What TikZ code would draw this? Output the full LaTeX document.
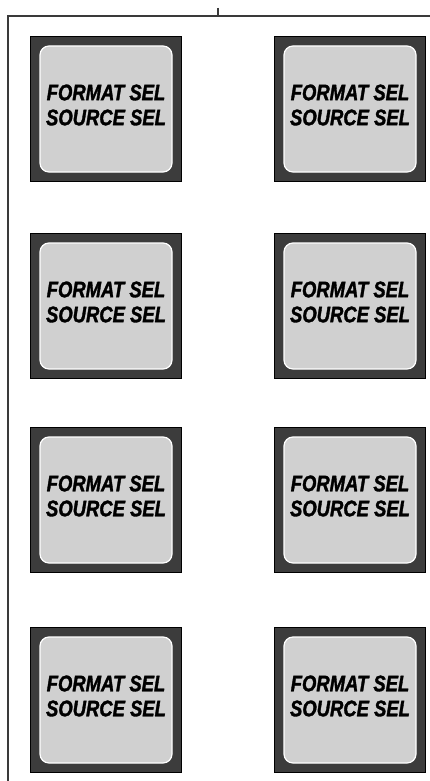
\documentclass[tikz,border=0pt]{standalone}
\usepackage{fontspec}
\usepackage{xcolor}
\newfontfamily\panelfont[FakeStretch=0.82,FakeBold=1.5]{Liberation Sans}
\definecolor{capgray}{HTML}{3C3C3C}
\definecolor{facegray}{HTML}{D0D0D0}
\definecolor{framegray}{HTML}{3A3A3A}

\begin{document}
\begin{tikzpicture}[x=1pt,y=-1pt,
  frame/.style={draw=framegray,line width=2.2pt},
  keycap/.style={draw=black,line width=1.8pt,fill=capgray,minimum width=151pt,minimum height=145pt,inner sep=0pt},
  keyface/.style={draw=white,line width=1.2pt,fill=facegray,rounded corners=9pt,minimum width=132pt,minimum height=126pt,inner sep=0pt},
  keytext/.style={font=\panelfont\fontsize{22.5}{25}\selectfont\bfseries\itshape,align=center,text=black,inner sep=0pt}]
\useasboundingbox (0,0) rectangle (430,781);
\fill[white] (0,0) rectangle (430,781);
% panel edge
\coordinate (topright) at (431,16);
\coordinate (corner) at (8,16);
\coordinate (bottomleft) at (8,782);
\coordinate (tick) at (218,8);
\coordinate (tickfoot) at (218,16);
\draw[frame] (topright) -- (corner) -- (bottomleft);
\draw[frame] (tick) -- (tickfoot);
% left column
\node[keycap] (capA1) at (106,109) {};
\node[keycap] (capA2) at (106,306) {};
\node[keycap] (capA3) at (106,500) {};
\node[keycap] (capA4) at (106,700) {};
% right column
\node[keycap] (capB1) at (350,109) {};
\node[keycap] (capB2) at (350,306) {};
\node[keycap] (capB3) at (350,500) {};
\node[keycap] (capB4) at (350,700) {};
% faces
\node[keyface] (faceA1) at (capA1) {};
\node[keyface] (faceA2) at (capA2) {};
\node[keyface] (faceA3) at (capA3) {};
\node[keyface] (faceA4) at (capA4) {};
\node[keyface] (faceB1) at (capB1) {};
\node[keyface] (faceB2) at (capB2) {};
\node[keyface] (faceB3) at (capB3) {};
\node[keyface] (faceB4) at (capB4) {};
% labels
\node[keytext] (labelA1) at ([yshift=4pt]capA1) {FORMAT SEL\\SOURCE SEL};
\node[keytext] (labelA2) at ([yshift=4pt]capA2) {FORMAT SEL\\SOURCE SEL};
\node[keytext] (labelA3) at ([yshift=4pt]capA3) {FORMAT SEL\\SOURCE SEL};
\node[keytext] (labelA4) at ([yshift=4pt]capA4) {FORMAT SEL\\SOURCE SEL};
\node[keytext] (labelB1) at ([yshift=4pt]capB1) {FORMAT SEL\\SOURCE SEL};
\node[keytext] (labelB2) at ([yshift=4pt]capB2) {FORMAT SEL\\SOURCE SEL};
\node[keytext] (labelB3) at ([yshift=4pt]capB3) {FORMAT SEL\\SOURCE SEL};
\node[keytext] (labelB4) at ([yshift=4pt]capB4) {FORMAT SEL\\SOURCE SEL};
\end{tikzpicture}
\end{document}
